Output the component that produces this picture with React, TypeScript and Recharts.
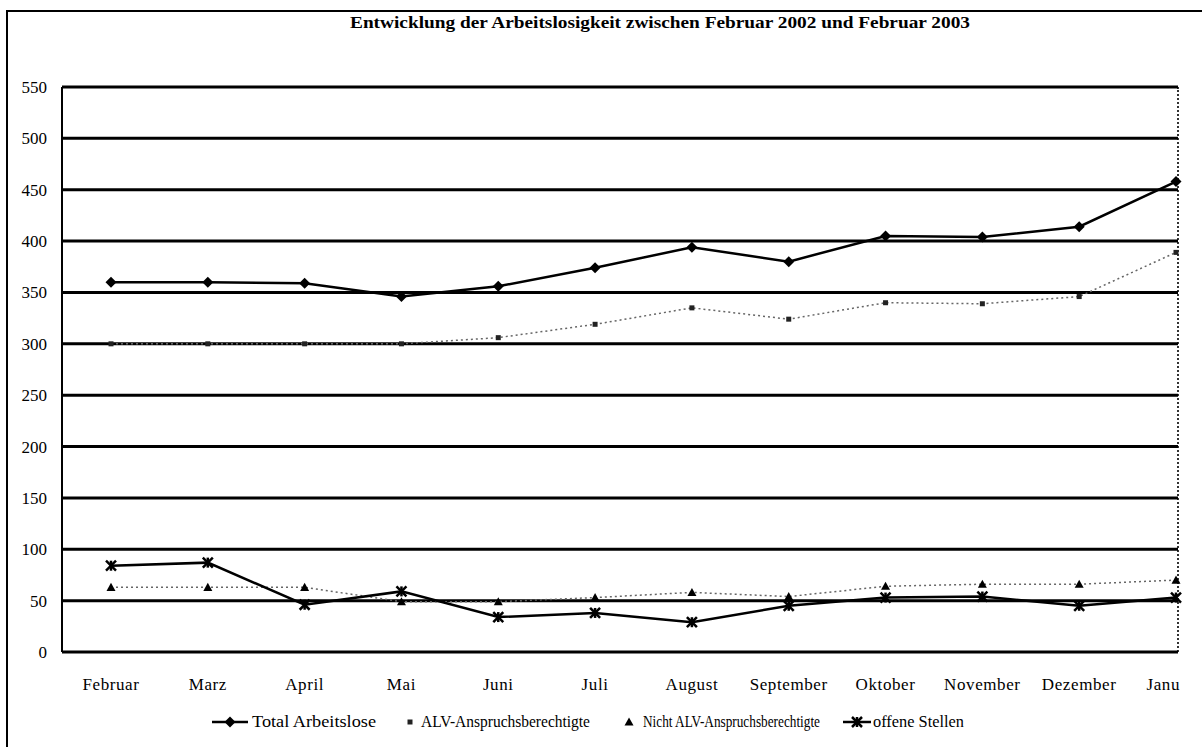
import React from 'react';
import { LineChart, Line, XAxis, YAxis, CartesianGrid, Legend } from 'recharts';

const months = ['Februar', 'Marz', 'April', 'Mai', 'Juni', 'Juli', 'August', 'September', 'Oktober', 'November', 'Dezember', 'Janu'];
const totalArbeitslose = [360, 360, 359, 346, 356, 374, 394, 380, 405, 404, 414, 458];
const alvBerechtigte = [300, 300, 300, 300, 306, 319, 335, 324, 340, 339, 346, 389];
const nichtAlvBerechtigte = [63, 63, 63, 49, 49, 53, 58, 54, 64, 66, 66, 70];
const offeneStellen = [84, 87, 46, 59, 34, 38, 29, 45, 53, 54, 45, 53];
const yTicks = [0, 50, 100, 150, 200, 250, 300, 350, 400, 450, 500, 550];

const seriesNames = {
  total: 'Total Arbeitslose',
  alv: 'ALV-Anspruchsberechtigte',
  nicht: 'Nicht ALV-Anspruchsberechtigte',
  offen: 'offene Stellen',
};

const data = months.map((m, i) => ({
  month: m,
  total: totalArbeitslose[i],
  alv: alvBerechtigte[i],
  nicht: nichtAlvBerechtigte[i],
  offen: offeneStellen[i],
}));

const FONT = '"Liberation Serif", "DejaVu Serif", serif';

const Diamond = (props: any) => {
  const { cx, cy, index } = props;
  if (cx == null || cy == null) return <g key={index} />;
  const r = 5.5;
  return <path key={index} d={`M${cx},${cy - r}L${cx + r},${cy}L${cx},${cy + r}L${cx - r},${cy}Z`} fill="#000" />;
};
const Square = (props: any) => {
  const { cx, cy, index } = props;
  if (cx == null || cy == null) return <g key={index} />;
  return <rect key={index} x={cx - 2.5} y={cy - 2.5} width={5} height={5} fill="#222" />;
};
const Tri = (props: any) => {
  const { cx, cy, index } = props;
  if (cx == null || cy == null) return <g key={index} />;
  const r = 4.5;
  return <path key={index} d={`M${cx},${cy - r}L${cx + r},${cy + r * 0.8}L${cx - r},${cy + r * 0.8}Z`} fill="#000" />;
};
const Star = (props: any) => {
  const { cx, cy, index } = props;
  if (cx == null || cy == null) return <g key={index} />;
  const r = 5;
  return (
    <g key={index} stroke="#000" strokeWidth={2.5}>
      <line x1={cx - r} y1={cy - r} x2={cx + r} y2={cy + r} />
      <line x1={cx - r} y1={cy + r} x2={cx + r} y2={cy - r} />
      <line x1={cx} y1={cy - r} x2={cx} y2={cy + r} />
    </g>
  );
};

const XTick = (props: any) => {
  const { x, y, payload, index } = props;
  const last = index === months.length - 1;
  return (
    <text x={last ? x + 4 : x} y={y} dy="0.71em" textAnchor={last ? 'end' : 'middle'} fontFamily={FONT} fontSize={17} letterSpacing={0.6} fill="#000">
      {payload.value}
    </text>
  );
};

const LegendContent = () => {
  const ty = 14;
  return (
    <svg width={1202} height={30} style={{ display: 'block' }}>
      <g fontFamily={FONT} fontSize={17} fill="#000">
        <line x1={212} y1={ty} x2={248} y2={ty} stroke="#000" strokeWidth={2.5} />
        <Diamond cx={230} cy={ty} index={0} />
        <text x={252} y={ty + 5} textLength={124} lengthAdjust="spacingAndGlyphs">{seriesNames.total}</text>
        <Square cx={410} cy={ty} index={1} />
        <text x={421} y={ty + 5} textLength={169} lengthAdjust="spacingAndGlyphs">{seriesNames.alv}</text>
        <Tri cx={629} cy={ty} index={2} />
        <text x={643} y={ty + 5} textLength={177} lengthAdjust="spacingAndGlyphs">{seriesNames.nicht}</text>
        <line x1={843} y1={ty} x2={871} y2={ty} stroke="#000" strokeWidth={2.5} />
        <Star cx={857} cy={ty} index={3} />
        <text x={873} y={ty + 5} textLength={91} lengthAdjust="spacingAndGlyphs">{seriesNames.offen}</text>
      </g>
    </svg>
  );
};

export default function App() {
  return (
    <div style={{ position: 'absolute', left: 0, top: 0, width: 1202, height: 747, background: '#fff' }}>
      <div style={{ position: 'absolute', left: 6, top: 10, width: 1200, height: 735, borderLeft: '2px solid #000', borderTop: '2px solid #000', borderBottom: '2px solid #000' }} />
      <div style={{ position: 'absolute', left: 1177, top: 87, width: 0, height: 565, borderRight: '2px dotted #333' }} />
      <svg width={1202} height={40} style={{ position: 'absolute', left: 0, top: 0 }}>
        <text x={350} y={28} fontFamily={FONT} fontWeight="bold" fontSize={17} textLength={620} lengthAdjust="spacingAndGlyphs" fill="#000">
          Entwicklung der Arbeitslosigkeit zwischen Februar 2002 und Februar 2003
        </text>
      </svg>
      <LineChart width={1202} height={747} data={data} margin={{ top: 87, right: 24, bottom: 35, left: 12 }} style={{ position: 'absolute', left: 0, top: 0 }}>
        <CartesianGrid vertical={false} stroke="#000" strokeWidth={3} />
        <XAxis dataKey="month" padding={{ left: 49, right: 2 }} axisLine={{ stroke: '#000', strokeWidth: 2 }} tickLine={false} tickSize={0} tickMargin={26} height={30} tick={<XTick />} interval={0} />
        <YAxis domain={[0, 550]} ticks={yTicks} width={50} axisLine={{ stroke: '#000', strokeWidth: 2 }} tickLine={false} tickSize={0} tickMargin={15} tick={{ fontFamily: FONT, fontSize: 17, fill: '#000' }} interval={0} />
        <Legend verticalAlign="bottom" height={30} content={<LegendContent />} wrapperStyle={{ position: 'absolute', left: 0, top: 708, width: 1202 }} />
        <Line type="linear" dataKey="alv" name={seriesNames.alv} stroke="#666" strokeWidth={1.5} strokeDasharray="2 3" dot={<Square />} isAnimationActive={false} />
        <Line type="linear" dataKey="nicht" name={seriesNames.nicht} stroke="#666" strokeWidth={1.5} strokeDasharray="2 3" dot={<Tri />} isAnimationActive={false} />
        <Line type="linear" dataKey="offen" name={seriesNames.offen} stroke="#000" strokeWidth={2.5} dot={<Star />} isAnimationActive={false} />
        <Line type="linear" dataKey="total" name={seriesNames.total} stroke="#000" strokeWidth={2.5} dot={<Diamond />} isAnimationActive={false} />
      </LineChart>
    </div>
  );
}
